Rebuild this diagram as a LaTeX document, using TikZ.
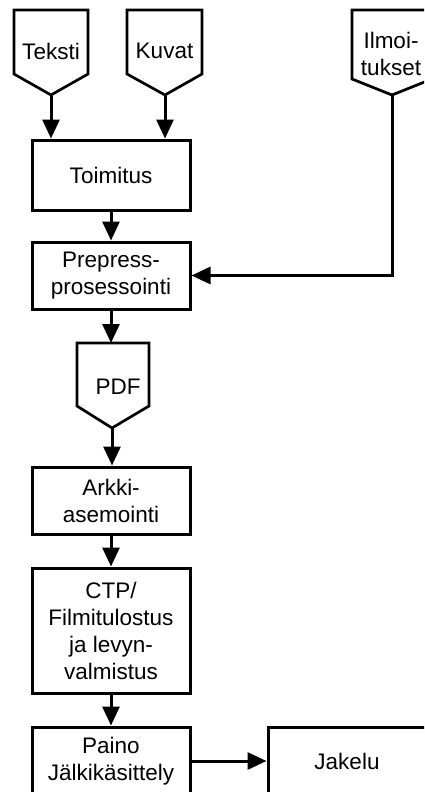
\documentclass[tikz,border=0pt]{standalone}
\usepackage{fontspec}
\setmainfont{Liberation Sans}
\usetikzlibrary{arrows.meta}
\begin{document}
\begin{tikzpicture}[x=1pt,y=-1pt,
  lbl/.style={align=center,inner sep=0pt,font=\fontsize{22.5}{27}\selectfont},
  box/.style={lbl,draw,line width=3pt,minimum width=158pt},
  flow/.style={line width=3pt,-{Triangle[length=19pt,width=17pt]}},
  tag/.style={draw,line width=2.7pt,line join=miter,fill=white}
]
\clip (0,0) rectangle (424,792);
\fill[white] (0,0) rectangle (424,792);

% source documents (pentagon tags)
\draw[tag] (14,10) -- (88,10) -- (88,74) -- (51,95) -- (14,74) -- cycle;
\coordinate (tekstiTip) at (51,95);
\node[lbl] (teksti) at (51,51) {Teksti};

\draw[tag] (127,10) -- (202,10) -- (202,74) -- (165,95) -- (127,74) -- cycle;
\coordinate (kuvatTip) at (165,95);
\node[lbl] (kuvat) at (164.5,51) {Kuvat};

\draw[tag] (352,10) -- (432,10) -- (432,79) -- (392,95) -- (352,79) -- cycle;
\coordinate (ilmTip) at (392,95);
\node[lbl] (ilm) at (391,54) {Ilmoi-\\tukset};

% process boxes
\node[box,minimum height=70pt] (toimitus) at (111,175) {Toimitus};
\node[box,minimum height=67pt] (prepress) at (111,275.5) {Prepress-\\prosessointi};

\draw[tag] (77,343) -- (149,343) -- (149,406) -- (112,428) -- (77,406) -- cycle;
\coordinate (pdfTop) at (111,343);
\coordinate (pdfTip) at (112,428);
\node[lbl] (pdf) at (118,387) {PDF};

\node[box,minimum height=67pt] (arkki) at (111,500.5) {Arkki-\\asemointi};
\node[box,minimum height=125pt] (ctp) at (111,630.5) {CTP/\\Filmitulostus\\ja levyn-\\valmistus};
\node[box,minimum height=68pt] (paino) at (111,761) {Paino\\Jälkikäsittely};
\node[box,minimum height=68pt] (jakelu) at (347,761) {Jakelu};

% connectors
\draw[flow] (tekstiTip) -- (tekstiTip |- toimitus.north);
\draw[flow] (kuvatTip) -- (kuvatTip |- toimitus.north);
\draw[flow] (toimitus.south) -- (prepress.north);
\draw[flow] (ilmTip) |- (prepress.east);
\draw[flow] (prepress.south) -- (pdfTop);
\draw[flow] (pdfTip) -- (pdfTip |- arkki.north);
\draw[flow] (arkki.south) -- (ctp.north);
\draw[flow] (ctp.south) -- (paino.north);
\draw[flow] (paino.east) -- (jakelu.west);
\end{tikzpicture}
\end{document}
